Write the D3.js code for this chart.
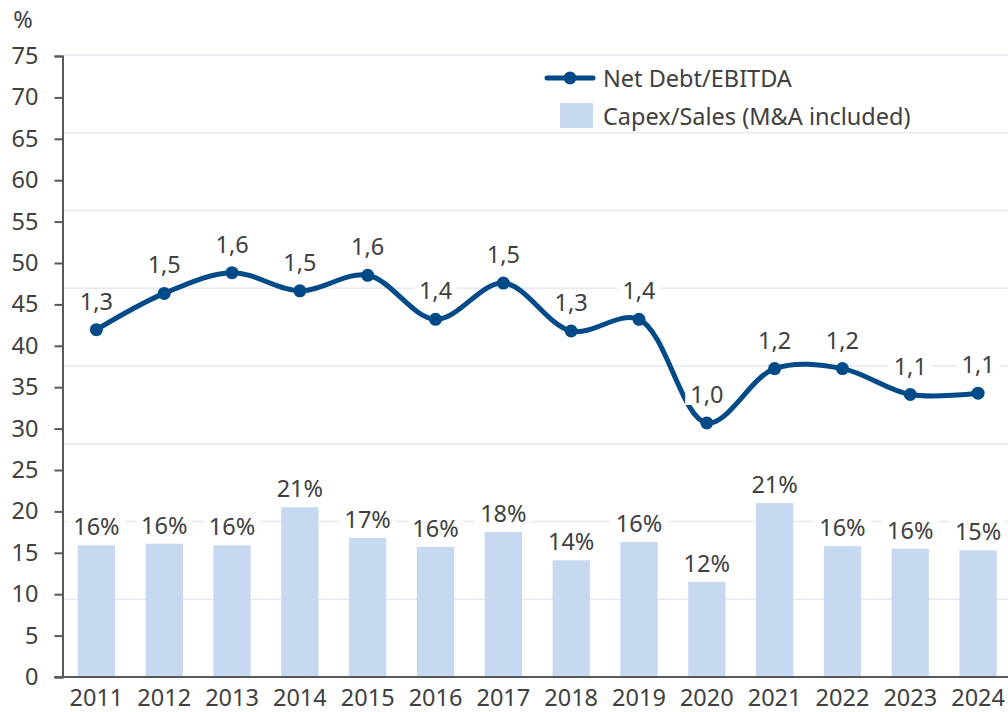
<!DOCTYPE html>
<html>
<head>
<meta charset="utf-8">
<script src="https://cdn.jsdelivr.net/npm/d3@7"></script>
<style>
  html, body { margin: 0; padding: 0; background: #fff; }
  svg { display: block; font-family: "Noto Sans", "Open Sans", sans-serif; }
</style>
</head>
<body>
<svg id="chart" width="1008" height="712"></svg>
<script>
const years = ["2011", "2012", "2013", "2014", "2015", "2016", "2017", "2018", "2019", "2020", "2021", "2022", "2023", "2024"];
// Capex/Sales (M&A included), %
const capexSales = [15.9, 16.1, 15.9, 20.5, 16.8, 15.7, 17.5, 14.1, 16.3, 11.5, 21.0, 15.8, 15.5, 15.3];
const capexLabels = ["16%", "16%", "16%", "21%", "17%", "16%", "18%", "14%", "16%", "12%", "21%", "16%", "16%", "15%"];
// Net Debt/EBITDA (secondary, hidden axis 0-2.4)
const netDebtEbitda = [1.34, 1.48, 1.56, 1.49, 1.55, 1.38, 1.52, 1.335, 1.38, 0.98, 1.19, 1.19, 1.09, 1.095];
const netDebtLabels = ["1,3", "1,5", "1,6", "1,5", "1,6", "1,4", "1,5", "1,3", "1,4", "1,0", "1,2", "1,2", "1,1", "1,1"];
const yTicks = d3.range(0, 80, 5);
const gridTicks = d3.range(0.3, 2.41, 0.3);

const textColor = "#404040";
const lineColor = "#004a87";
const barColor = "#c6d9f1";
const fontSize = 23.5;

const svg = d3.select("#chart");
const plotLeft = 62.5, plotRight = 1012, plotTop = 56, plotBottom = 677;

const x = d3.scaleBand().domain(years).range([plotLeft, plotRight])
  .paddingInner(0.45).paddingOuter(0.225);
const y = d3.scaleLinear().domain([0, 75]).range([plotBottom, plotTop]);
const y2 = d3.scaleLinear().domain([0, 2.4]).range([plotBottom, plotTop - 1]);

// gridlines (from the secondary axis)
svg.append("g").selectAll("line").data(gridTicks).join("line")
  .attr("x1", plotLeft).attr("x2", plotRight)
  .attr("y1", d => y2(d)).attr("y2", d => y2(d))
  .attr("stroke", "#e6e8f2").attr("stroke-width", 1.3);

// bars
svg.append("g").selectAll("rect").data(capexSales).join("rect")
  .attr("x", (d, i) => x(years[i]))
  .attr("width", x.bandwidth())
  .attr("y", d => y(d))
  .attr("height", d => plotBottom - y(d))
  .attr("fill", barColor);

// y axis
const yAxis = svg.append("g").attr("transform", `translate(${plotLeft},0)`)
  .call(d3.axisLeft(y).tickValues(yTicks).tickSize(8).tickPadding(16))
  .attr("font-family", null).attr("font-size", fontSize);
yAxis.select(".domain").attr("stroke", "#595959").attr("stroke-width", 2);
yAxis.selectAll(".tick line").attr("stroke", "#595959").attr("stroke-width", 2);
yAxis.selectAll(".tick text").attr("fill", textColor);

// x axis
const xAxis = svg.append("g").attr("transform", `translate(0,${plotBottom})`)
  .call(d3.axisBottom(x).tickSize(0).tickPadding(12))
  .attr("font-family", null).attr("font-size", fontSize);
xAxis.select(".domain").attr("stroke", "#595959").attr("stroke-width", 2)
  .attr("d", `M${plotLeft - 8},0H${plotRight}`);
xAxis.selectAll(".tick text").attr("fill", textColor);

svg.append("text").attr("x", 23).attr("y", 28).attr("text-anchor", "middle")
  .attr("fill", textColor).attr("font-size", fontSize).text("%");

// label helper with white background
function addLabel(g, cx, cy, txt) {
  const t = g.append("text").attr("x", cx).attr("y", cy)
    .attr("text-anchor", "middle").attr("dominant-baseline", "central")
    .attr("fill", textColor).attr("font-size", fontSize).text(txt);
  const b = t.node().getBBox();
  g.insert("rect", "text").attr("x", b.x - 5).attr("y", b.y + 5)
    .attr("width", b.width + 10).attr("height", b.height - 10).attr("fill", "#fff");
}

const barLabels = svg.append("g");
capexSales.forEach((d, i) => {
  const g = barLabels.append("g");
  addLabel(g, x(years[i]) + x.bandwidth() / 2, y(d) - 19, capexLabels[i]);
});

// line
const pts = netDebtEbitda.map((d, i) => [x(years[i]) + x.bandwidth() / 2, y2(d)]);
svg.append("path").datum(pts)
  .attr("d", d3.line().curve(d3.curveCatmullRom.alpha(0.5)))
  .attr("fill", "none").attr("stroke", lineColor).attr("stroke-width", 5)
  .attr("stroke-linejoin", "round");
svg.append("g").selectAll("circle").data(pts).join("circle")
  .attr("cx", d => d[0]).attr("cy", d => d[1]).attr("r", 6.5)
  .attr("fill", lineColor);

const lineLabels = svg.append("g");
pts.forEach((p, i) => {
  const g = lineLabels.append("g");
  addLabel(g, p[0], p[1] - 29, netDebtLabels[i]);
});

// legend
const lg = svg.append("g");
lg.append("line").attr("x1", 547).attr("x2", 593).attr("y1", 78).attr("y2", 78)
  .attr("stroke", lineColor).attr("stroke-width", 5).attr("stroke-linecap", "round");
lg.append("circle").attr("cx", 570).attr("cy", 78).attr("r", 6.5).attr("fill", lineColor);
lg.append("text").attr("x", 603).attr("y", 78).attr("dominant-baseline", "central")
  .attr("fill", textColor).attr("font-size", fontSize).text("Net Debt/EBITDA");
lg.append("rect").attr("x", 560).attr("y", 103).attr("width", 33).attr("height", 25)
  .attr("fill", barColor);
lg.append("text").attr("x", 603).attr("y", 116).attr("dominant-baseline", "central")
  .attr("fill", textColor).attr("font-size", fontSize).text("Capex/Sales (M&A included)");
</script>
</body>
</html>
